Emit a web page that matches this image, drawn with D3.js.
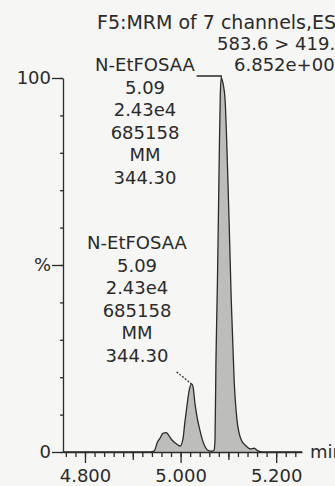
<!DOCTYPE html>
<html lang="en">
<head>
    <meta charset="utf-8">
    <title>N-EtFOSAA MRM chromatogram</title>
    <script src="https://d3js.org/d3.v7.min.js"></script>
    <style>
        body { margin: 0; background: #f6f6f4; }
        svg { display: block; }
        text { font-family: "DejaVu Sans", sans-serif; font-size: 18px; fill: #2b2b2b; }
    </style>
</head>
<body>
    <script>
        // chromatogram trace (retention time in min, % of max)
        var rtTimes = [4.754, 4.936, 4.945, 4.951, 4.957, 4.963, 4.970, 4.976, 4.982, 4.991, 4.999,
            5.005, 5.009, 5.014, 5.018, 5.023, 5.026, 5.030, 5.035, 5.041, 5.047, 5.053, 5.060,
            5.066, 5.070, 5.072, 5.074, 5.077, 5.079, 5.081, 5.083, 5.085, 5.087, 5.089, 5.093,
            5.097, 5.102, 5.106, 5.112, 5.118, 5.127, 5.137, 5.146, 5.154, 5.162, 5.171, 5.254];
        var intensities = [0, 0, 0.3, 2.5, 3.7, 5.0, 5.2, 4.3, 3.2, 2.2, 1.6,
            3.5, 8, 13, 16.5, 18.2, 17.5, 13, 9, 5.5, 2.7, 1.0, 0.3,
            0.2, 0.5, 3.2, 24.6, 45, 62, 80, 95, 100, 99.5, 98.4, 94.4,
            81, 59.4, 40.6, 19.3, 8.6, 3.2, 1.6, 0.8, 1.0, 0.3, 0, 0];

        var headerLines = ["F5:MRM of 7 channels,ES-", "583.6 > 419.1", "6.852e+005"];
        var peakLabel = ["N-EtFOSAA", "5.09", "2.43e4", "685158", "MM", "344.30"];
        var labelApexTimes = [5.085, 5.023];

        var xMajorTicks = [4.8, 5.0, 5.2];
        var xMidTicks = [4.9, 5.1];
        var yMajorTicks = [0, 50, 100];
        var yMajorLabels = ["0", "%", "100"];

        var w = 335;
        var h = 486;
        var svg = d3.select("body").append("svg").attr("width", w).attr("height", h);

        var x = d3.scaleLinear().domain([4.754, 5.254]).range([63, 302]);
        var y = d3.scaleLinear().domain([0, 100]).range([452, 78]);

        var trace = rtTimes.map(function (t, i) { return { t: t, v: intensities[i] }; });

        // shaded peaks
        svg.append("path").datum(trace)
            .attr("fill", "#bdbdbb")
            .attr("d", d3.area().curve(d3.curveMonotoneX)
                .x(function (d) { return x(d.t); })
                .y0(y(0))
                .y1(function (d) { return y(d.v); }));

        svg.append("path").datum(trace)
            .attr("fill", "none")
            .attr("stroke", "#2b2b2b")
            .attr("stroke-width", 1.3)
            .attr("d", d3.line().curve(d3.curveMonotoneX)
                .x(function (d) { return x(d.t); })
                .y(function (d) { return y(d.v); }));

        // x axis: minor, mid and major ticks
        var minorTicks = d3.range(4.76, 5.245, 0.02);
        function styleAxis(g) {
            g.selectAll("path, line").attr("stroke", "#2b2b2b").attr("stroke-width", 1.3);
            g.selectAll("text").style("font-family", "DejaVu Sans").style("font-size", "18px").attr("fill", "#2b2b2b");
        }
        svg.append("g").attr("transform", "translate(0," + y(0) + ")")
            .call(d3.axisBottom(x).tickValues(minorTicks).tickSize(5).tickSizeOuter(0).tickFormat(""))
            .call(styleAxis);
        svg.append("g").attr("transform", "translate(0," + y(0) + ")")
            .call(d3.axisBottom(x).tickValues(xMidTicks).tickSize(8).tickFormat(""))
            .call(function (g) { g.select(".domain").remove(); })
            .call(styleAxis);
        svg.append("g").attr("transform", "translate(0," + y(0) + ")")
            .call(d3.axisBottom(x).tickValues(xMajorTicks).tickSize(11).tickPadding(6).tickFormat(d3.format(".3f")))
            .call(function (g) { g.select(".domain").remove(); })
            .call(styleAxis);

        // y axis
        svg.append("g").attr("transform", "translate(" + x.range()[0] + ",0)")
            .call(d3.axisLeft(y).tickValues(d3.range(0, 101, 10)).tickSize(3).tickSizeOuter(0).tickFormat(""))
            .call(styleAxis);
        svg.append("g").attr("transform", "translate(" + x.range()[0] + ",0)")
            .call(d3.axisLeft(y).tickValues(yMajorTicks).tickSize(11).tickPadding(1)
                .tickFormat(function (d, i) { return yMajorLabels[i]; }))
            .call(function (g) { g.select(".domain").remove(); })
            .call(styleAxis);

        svg.append("text").attr("x", 310).attr("y", y(0) + 6).text("min");

        // header (runs off the right edge as in the original print)
        var headerX = [97, 217, 234];
        var headerY = [29, 50, 71];
        var headerSize = [19, 18, 18];
        svg.selectAll(".header").data(headerLines).enter().append("text")
            .attr("class", "header")
            .attr("x", function (d, i) { return headerX[i]; })
            .attr("y", function (d, i) { return headerY[i]; })
            .style("font-size", function (d, i) { return headerSize[i] + "px"; })
            .text(function (d) { return d; });

        // two peak label blocks
        var blockCx = [145, 137];
        var blockTop = [71, 249];
        var rowGap = 22.5;
        blockCx.forEach(function (cx, b) {
            svg.append("g").attr("class", "peak-label")
                .selectAll("text").data(peakLabel).enter().append("text")
                .attr("x", cx)
                .attr("y", function (d, i) { return blockTop[b] + i * rowGap; })
                .attr("text-anchor", "middle")
                .text(function (d) { return d; });
        });

        // leader from first label to main apex
        var nameBox = svg.select(".peak-label text").node().getBBox();
        var apex1 = x(labelApexTimes[0]);
        svg.append("path")
            .attr("fill", "none").attr("stroke", "#2b2b2b").attr("stroke-width", 1.3)
            .attr("d", "M" + (nameBox.x + nameBox.width + 1) + "," + (y(100) - 2) + "H" + apex1 + "V" + y(100));

        // dotted leader to the smaller peak
        var apex2 = x(labelApexTimes[1]);
        var apex2v = intensities[rtTimes.indexOf(labelApexTimes[1])];
        svg.append("line")
            .attr("x1", apex2 - 15).attr("y1", y(apex2v) - 12)
            .attr("x2", apex2).attr("y2", y(apex2v))
            .attr("stroke", "#2b2b2b").attr("stroke-width", 1.2)
            .attr("stroke-dasharray", "2,1.5");
    </script>
</body>
</html>
